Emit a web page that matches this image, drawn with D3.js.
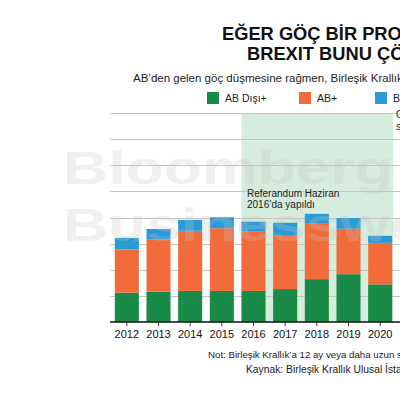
<!DOCTYPE html>
<html lang="tr">
  <head>
    <meta charset="utf-8">
    <title>Brexit göç</title>
    <script src="https://cdn.jsdelivr.net/npm/d3@7"></script>
    <style>
      body { margin: 0; background: #fff; }
      svg { display: block; overflow: hidden; }
      text { font-family: 'Liberation Sans', Arial, sans-serif; }
    </style>
  </head>
  <body>
    <div id='main'></div>
    <script>
      // values (grid step = 100)
      let years = ['2012','2013','2014','2015','2016','2017','2018','2019','2020']
      let nonEU = [112, 116, 119, 119, 119, 126, 164, 183, 144]
      let eu    = [166, 201, 230, 240, 227, 207, 212, 174, 159]
      let uk    = [ 44,  39,  42,  42,  38,  47,  38,  41,  27]
      let seriesNames = ['AB Dışı+', 'AB+', 'Birleşik Krallık+']
      let colors = ['#1a8a48', '#f26c3b', '#2b9bd8']
      let yTicks = [100, 200, 300, 400, 500, 600, 700, 800]

      let rows = years.map((y, i) => ({year: y, nonEU: nonEU[i], eu: eu[i], uk: uk[i]}))
      let stack = d3.stack().keys(['nonEU', 'eu', 'uk'])(rows)

      let width = 400, height = 400
      let svg = d3.select('#main').append('svg')
        .attr('width', width)
        .attr('height', height)

      let x = d3.scaleBand()
        .domain(years)
        .range([111, 396])
        .paddingInner(0.24)
        .paddingOuter(0.12)
      let y = d3.scaleLinear()
        .domain([0, 800])
        .range([322, 113])

      // post-referendum shading
      svg.append('rect')
        .attr('x', x('2016'))
        .attr('y', y(800))
        .attr('width', x('2020') + x.bandwidth() + 1 - x('2016'))
        .attr('height', y(0) - y(800))
        .attr('fill', '#d6ecde')

      // grid
      svg.append('g').selectAll('line')
        .data(yTicks)
        .enter()
        .append('line')
        .attr('x1', 110)
        .attr('x2', 520)
        .attr('y1', d => Math.round(y(d)) + 0.5)
        .attr('y2', d => Math.round(y(d)) + 0.5)
        .attr('stroke', '#c4c4c4')
        .attr('stroke-width', 1)

      // bars
      svg.append('g').selectAll('g')
        .data(stack)
        .enter()
        .append('g')
        .attr('fill', (d, i) => colors[i])
        .selectAll('rect')
        .data(d => d)
        .enter()
        .append('rect')
        .attr('x', d => x(d.data.year))
        .attr('y', d => y(d[1]))
        .attr('width', x.bandwidth())
        .attr('height', d => y(d[0]) - y(d[1]))

      // watermark
      let wm = svg.append('g')
        .attr('fill', '#c4c4c4')
        .attr('opacity', 0.25)
        .attr('font-weight', 'bold')
        .attr('font-size', 47)
      wm.append('text')
        .attr('x', 63).attr('y', 184)
        .attr('textLength', 330)
        .attr('lengthAdjust', 'spacingAndGlyphs')
        .text('Bloomberg')
      wm.append('text')
        .attr('x', 63).attr('y', 241)
        .attr('textLength', 430)
        .attr('lengthAdjust', 'spacingAndGlyphs')
        .text('Businessweek')

      // x axis
      let xAxis = d3.axisBottom(x).tickSize(4).tickPadding(4).tickSizeOuter(0)
      let gx = svg.append('g')
        .attr('transform', 'translate(0,' + y(0) + ')')
        .call(xAxis)
      gx.select('.domain').remove()
      gx.append('line')
        .attr('x1', 110).attr('x2', 520)
        .attr('stroke', '#111').attr('stroke-width', 1.5)
      gx.selectAll('.tick line').attr('stroke', '#333')
      gx.selectAll('.tick text')
        .attr('font-size', 11)
        .attr('font-family', "'Liberation Sans', Arial, sans-serif")
        .attr('fill', '#111')

      // annotations
      let ann = svg.append('g').attr('font-size', 10).attr('fill', '#222')
      ann.append('text').attr('x', 247).attr('y', 197).text('Referandum Haziran')
      ann.append('text').attr('x', 247).attr('y', 208).text('2016\u2019da yapıldı')
      ann.append('text').attr('x', 396).attr('y', 118).text('Covid-19')
      ann.append('text').attr('x', 396).attr('y', 130).text('salgını')

      // titles
      svg.append('text')
        .attr('x', 222).attr('y', 40)
        .attr('font-size', 18.3).attr('font-weight', 'bold').attr('fill', '#111')
        .text('EĞER GÖÇ BİR PROBLEMSE,')
      svg.append('text')
        .attr('x', 247).attr('y', 60)
        .attr('font-size', 18.3).attr('font-weight', 'bold').attr('fill', '#111')
        .text('BREXIT BUNU ÇÖZMEDİ')
      svg.append('text')
        .attr('x', 133).attr('y', 82)
        .attr('font-size', 11.5).attr('fill', '#222')
        .text('AB\u2019den gelen göç düşmesine rağmen, Birleşik Krallık\u2019a göç arttı')

      // legend
      let legX = [207, 299, 375]
      let leg = svg.append('g').selectAll('g')
        .data(seriesNames)
        .enter()
        .append('g')
        .attr('transform', (d, i) => 'translate(' + legX[i] + ',92)')
      leg.append('rect')
        .attr('width', 12).attr('height', 12)
        .attr('fill', (d, i) => colors[i])
      leg.append('text')
        .attr('x', 18).attr('y', 10)
        .attr('font-size', 10.5).attr('fill', '#222')
        .text(d => d)

      // notes
      svg.append('text')
        .attr('x', 208).attr('y', 358)
        .attr('font-size', 9.7).attr('fill', '#222')
        .text('Not: Birleşik Krallık\u2019a 12 ay veya daha uzun süreliğine gelenler')
      svg.append('text')
        .attr('x', 246).attr('y', 373)
        .attr('font-size', 10.3).attr('fill', '#222')
        .text('Kaynak: Birleşik Krallık Ulusal İstatistik Ofisi')
    </script>
  </body>
</html>
